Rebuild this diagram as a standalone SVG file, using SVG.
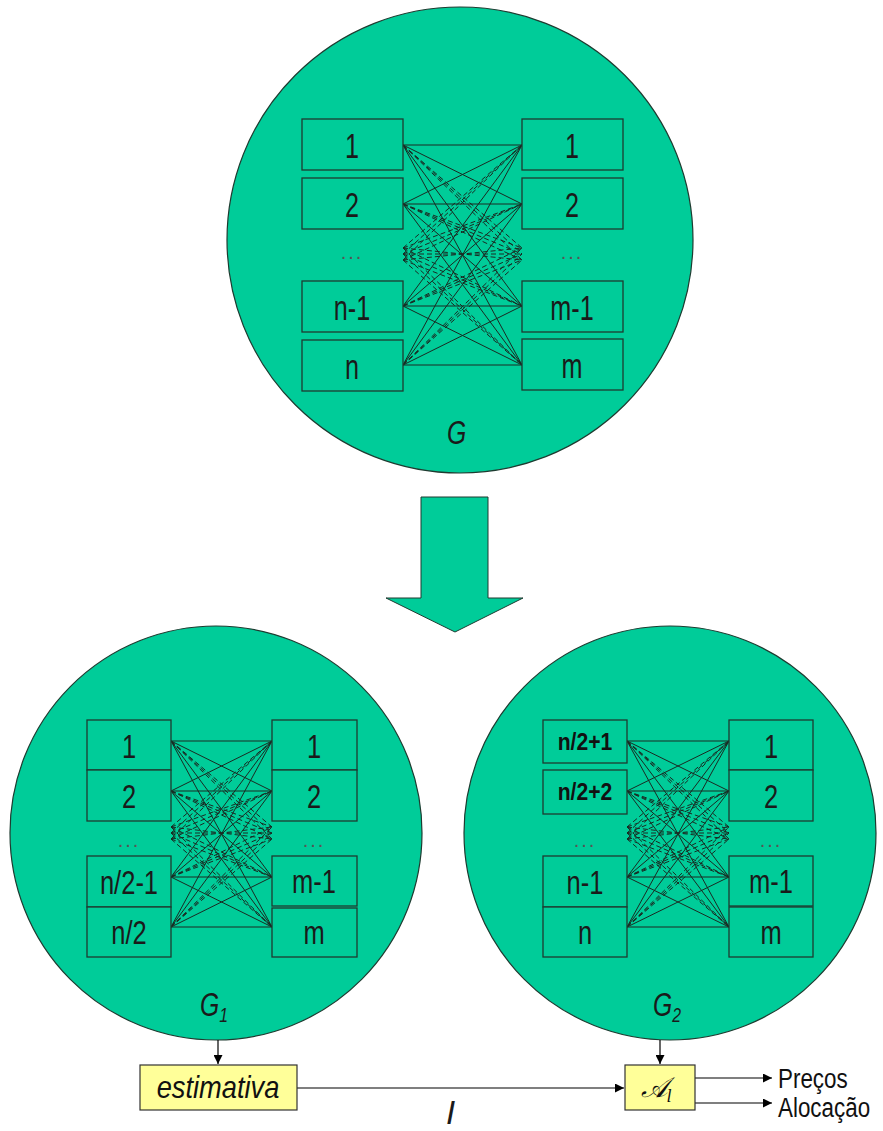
<svg xmlns="http://www.w3.org/2000/svg" width="883" height="1131" viewBox="0 0 883 1131">
<style>
.cir{fill:#00CC99;stroke:#1e3b30;stroke-width:1.2}
.bx{fill:#00CC99;stroke:#1e3b30;stroke-width:1.3}
.yb{fill:#FFFF99;stroke:#333;stroke-width:1.2}
.lb{font-family:"Liberation Sans",Arial,sans-serif;font-size:36px;fill:#1a1a1a;text-anchor:middle}
.lb2{font-family:"Liberation Sans",Arial,sans-serif;font-size:34px;fill:#1a1a1a;text-anchor:middle}
.lbb{font-family:"Liberation Sans",Arial,sans-serif;font-size:23px;font-weight:bold;fill:#111;text-anchor:middle}
.dt{font-family:"Liberation Sans",Arial,sans-serif;font-size:20px;fill:#555;text-anchor:middle;letter-spacing:2px}
.gl{font-family:"Liberation Sans",Arial,sans-serif;font-size:33px;font-style:italic;fill:#1a1a1a}
.sub{font-size:21px}
.s{stroke:#1a2a22;stroke-width:1;fill:none}
.d{stroke:#1a2a22;stroke-width:1;fill:none;stroke-dasharray:5 3}
.ar{stroke:#000;stroke-width:1.2;fill:none;marker-end:url(#ah)}
.bt{font-family:"Liberation Sans",Arial,sans-serif;font-size:28px;fill:#111}
</style>
<defs>
<marker id="ah" viewBox="0 0 10 10" refX="10" refY="5" markerWidth="9" markerHeight="9" markerUnits="userSpaceOnUse" orient="auto">
<path d="M0,0 L10,5 L0,10 z" fill="#000"/>
</marker>
</defs>
<rect width="883" height="1131" fill="#fff"/>

<g id="graphG">
<circle class="cir" cx="460" cy="240" r="233"/>
</g>
<g id="graphG1">
<ellipse class="cir" cx="216" cy="833" rx="206" ry="207"/>
</g>
<g id="graphG2">
<ellipse class="cir" cx="670" cy="833" rx="206" ry="207"/>
</g>

<g id="bigArrow">
<polygon points="421,497 488,497 488,598 523,598 455,632 386,598 421,598" fill="#00CC99" stroke="#1e3b30" stroke-width="1"/>
</g>

<g id="connectors">
<path class="s" d="M403,145L522,145M403,145L522,204M403,145L522,306M403,145L522,365M403,204L522,145M403,204L522,204M403,204L522,306M403,204L522,365M403,306L522,145M403,306L522,204M403,306L522,306M403,306L522,365M403,365L522,145M403,365L522,204M403,365L522,306M403,365L522,365"/>
<path class="d" d="M403,145L522,248M403,145L522,254M403,145L522,260M403,204L522,248M403,204L522,254M403,204L522,260M403,306L522,248M403,306L522,254M403,306L522,260M403,365L522,248M403,365L522,254M403,365L522,260M403,248L522,145M403,254L522,145M403,260L522,145M403,248L522,204M403,254L522,204M403,260L522,204M403,248L522,306M403,254L522,306M403,260L522,306M403,248L522,365M403,254L522,365M403,260L522,365M403,248L522,260M403,254L522,254M403,260L522,248"/>
<path class="s" d="M171,741L272,741M171,741L272,791M171,741L272,877M171,741L272,927M171,791L272,741M171,791L272,791M171,791L272,877M171,791L272,927M171,877L272,741M171,877L272,791M171,877L272,877M171,877L272,927M171,927L272,741M171,927L272,791M171,927L272,877M171,927L272,927"/>
<path class="d" d="M171,741L272,827M171,741L272,833M171,741L272,839M171,791L272,827M171,791L272,833M171,791L272,839M171,877L272,827M171,877L272,833M171,877L272,839M171,927L272,827M171,927L272,833M171,927L272,839M171,827L272,741M171,833L272,741M171,839L272,741M171,827L272,791M171,833L272,791M171,839L272,791M171,827L272,877M171,833L272,877M171,839L272,877M171,827L272,927M171,833L272,927M171,839L272,927M171,827L272,839M171,833L272,833M171,839L272,827"/>
<path class="s" d="M627,741L729,741M627,741L729,791M627,741L729,877M627,741L729,927M627,791L729,741M627,791L729,791M627,791L729,877M627,791L729,927M627,877L729,741M627,877L729,791M627,877L729,877M627,877L729,927M627,927L729,741M627,927L729,791M627,927L729,877M627,927L729,927"/>
<path class="d" d="M627,741L729,827M627,741L729,833M627,741L729,839M627,791L729,827M627,791L729,833M627,791L729,839M627,877L729,827M627,877L729,833M627,877L729,839M627,927L729,827M627,927L729,833M627,927L729,839M627,827L729,741M627,833L729,741M627,839L729,741M627,827L729,791M627,833L729,791M627,839L729,791M627,827L729,877M627,833L729,877M627,839L729,877M627,827L729,927M627,833L729,927M627,839L729,927M627,827L729,839M627,833L729,833M627,839L729,827"/>
<line class="ar" x1="218" y1="1040" x2="218" y2="1064"/>
<line class="ar" x1="660" y1="1040" x2="660" y2="1064"/>
<line class="ar" x1="297" y1="1088" x2="624" y2="1088"/>
<line class="ar" x1="695" y1="1078" x2="772" y2="1078"/>
<line class="ar" x1="695" y1="1103" x2="772" y2="1103"/>
</g>

<g id="gL1"><rect class="bx" x="302" y="119" width="101" height="51"/><text class="lb" transform="translate(352,158) scale(0.7,1)">1</text></g>
<g id="gL2"><rect class="bx" x="302" y="178" width="101" height="51"/><text class="lb" transform="translate(352,217) scale(0.7,1)">2</text></g>
<g id="gLdots"><text class="dt" x="352" y="259">...</text></g>
<g id="gLn1"><rect class="bx" x="302" y="281" width="101" height="51"/><text class="lb" transform="translate(352,320) scale(0.7,1)">n-1</text></g>
<g id="gLn"><rect class="bx" x="302" y="340" width="101" height="51"/><text class="lb" transform="translate(352,379) scale(0.7,1)">n</text></g>
<g id="gR1"><rect class="bx" x="522" y="119" width="101" height="51"/><text class="lb" transform="translate(572,158) scale(0.7,1)">1</text></g>
<g id="gR2"><rect class="bx" x="522" y="178" width="101" height="51"/><text class="lb" transform="translate(572,217) scale(0.7,1)">2</text></g>
<g id="gRdots"><text class="dt" x="572" y="259">...</text></g>
<g id="gRm1"><rect class="bx" x="522" y="281" width="101" height="51"/><text class="lb" transform="translate(572,320) scale(0.7,1)">m-1</text></g>
<g id="gRm"><rect class="bx" x="522" y="339" width="101" height="51"/><text class="lb" transform="translate(572,378) scale(0.7,1)">m</text></g>
<g id="labelG"><text class="gl" transform="translate(447,444) scale(0.75,1)">G</text></g>

<g id="g1L1"><rect class="bx" x="87" y="720" width="84" height="50"/><text class="lb2" transform="translate(129,758) scale(0.75,1)">1</text></g>
<g id="g1L2"><rect class="bx" x="87" y="770" width="84" height="51"/><text class="lb2" transform="translate(129,808) scale(0.75,1)">2</text></g>
<g id="g1Ldots"><text class="dt" x="129" y="847">...</text></g>
<g id="g1Ln1"><rect class="bx" x="87" y="856" width="84" height="51"/><text class="lb2" transform="translate(129,894) scale(0.75,1)">n/2-1</text></g>
<g id="g1Ln"><rect class="bx" x="87" y="907" width="84" height="50"/><text class="lb2" transform="translate(129,944) scale(0.75,1)">n/2</text></g>
<g id="g1R1"><rect class="bx" x="272" y="720" width="85" height="50"/><text class="lb2" transform="translate(314,758) scale(0.75,1)">1</text></g>
<g id="g1R2"><rect class="bx" x="272" y="770" width="85" height="51"/><text class="lb2" transform="translate(314,808) scale(0.75,1)">2</text></g>
<g id="g1Rdots"><text class="dt" x="314" y="847">...</text></g>
<g id="g1Rm1"><rect class="bx" x="272" y="856" width="85" height="50"/><text class="lb2" transform="translate(314,893) scale(0.75,1)">m-1</text></g>
<g id="g1Rm"><rect class="bx" x="272" y="908" width="85" height="49"/><text class="lb2" transform="translate(314,944) scale(0.75,1)">m</text></g>
<g id="labelG1"><text class="gl" transform="translate(200,1016) scale(0.75,1)">G<tspan class="sub" dy="6">1</tspan></text></g>

<g id="g2L1"><rect class="bx" x="543" y="720" width="84" height="43"/><text class="lbb" transform="translate(585,750) scale(0.92,1)">n/2+1</text></g>
<g id="g2L2"><rect class="bx" x="543" y="770" width="84" height="44"/><text class="lbb" transform="translate(585,800) scale(0.92,1)">n/2+2</text></g>
<g id="g2Ldots"><text class="dt" x="585" y="847">...</text></g>
<g id="g2Ln1"><rect class="bx" x="543" y="856" width="84" height="51"/><text class="lb2" transform="translate(585,894) scale(0.75,1)">n-1</text></g>
<g id="g2Ln"><rect class="bx" x="543" y="907" width="84" height="50"/><text class="lb2" transform="translate(585,944) scale(0.75,1)">n</text></g>
<g id="g2R1"><rect class="bx" x="729" y="720" width="84" height="50"/><text class="lb2" transform="translate(771,758) scale(0.75,1)">1</text></g>
<g id="g2R2"><rect class="bx" x="729" y="770" width="84" height="51"/><text class="lb2" transform="translate(771,808) scale(0.75,1)">2</text></g>
<g id="g2Rdots"><text class="dt" x="771" y="847">...</text></g>
<g id="g2Rm1"><rect class="bx" x="729" y="856" width="84" height="50"/><text class="lb2" transform="translate(771,893) scale(0.75,1)">m-1</text></g>
<g id="g2Rm"><rect class="bx" x="729" y="907" width="84" height="50"/><text class="lb2" transform="translate(771,944) scale(0.75,1)">m</text></g>
<g id="labelG2"><text class="gl" transform="translate(653,1016) scale(0.75,1)">G<tspan class="sub" dy="6">2</tspan></text></g>

<g id="estimativa"><rect class="yb" x="140" y="1065" width="157" height="45"/><text font-family="'Liberation Sans',Arial,sans-serif" font-size="31" font-style="italic" fill="#111" text-anchor="middle" transform="translate(218,1098) scale(0.88,1)">estimativa</text></g>
<g id="Al"><rect class="yb" x="625" y="1065" width="70" height="45"/><text font-family="'DejaVu Serif','Liberation Serif',serif" font-style="italic" font-size="28" fill="#111" text-anchor="middle" transform="translate(656,1097)">𝒜<tspan font-family="'Liberation Serif',serif" font-size="18" dy="5">l</tspan></text></g>
<g id="precos"><text class="bt" transform="translate(778,1088) scale(0.8,1)">Preços</text></g>
<g id="alocacao"><text class="bt" transform="translate(778,1117) scale(0.8,1)">Alocação</text></g>
<g id="labelI"><text class="gl" font-size="26" transform="translate(446,1124)">I</text></g>
</svg>
